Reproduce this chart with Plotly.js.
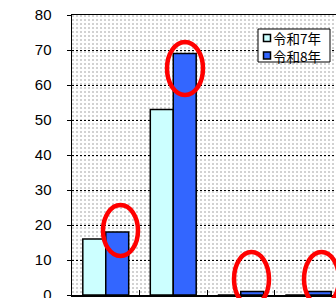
<!DOCTYPE html>
<html>
<head>
<meta charset="utf-8">
<script src="https://cdn.plot.ly/plotly-3.0.1.min.js"></script>
<style>html,body{margin:0;padding:0;background:#fff;}#chart{width:336px;height:298px;}</style>
</head>
<body>
<div id="chart"></div>
<script>
// ---- data ----
var categories = ['1', '2', '3', '4'];
var seriesNames = ['令和7年', '令和8年'];
var valuesR7 = [16, 53, 0, 0];
var valuesR8 = [18, 69, 1, 1];
var yTicks = [0, 10, 20, 30, 40, 50, 60, 70, 80];

// ---- layout helpers (pixel -> paper) ----
var W = 336, H = 298, ML = 72, MT = 15, MB = 3, MR = 0;
var PW = W - ML - MR, PH = H - MT - MB;
function px(x) { return (x - ML) / PW; }
function py(y) { return (H - MB - y) / PH; }

var cyan = '#CCFFFF', blue = '#3366FF';

var traces = [
  { type: 'bar', x: categories, y: valuesR7, name: seriesNames[0],
    marker: { color: cyan, line: { color: '#000', width: 1.5 } }, showlegend: false, hoverinfo: 'none' },
  { type: 'bar', x: categories, y: valuesR8, name: seriesNames[1],
    marker: { color: blue, line: { color: '#000', width: 1.5 } }, showlegend: false, hoverinfo: 'none' }
];

var bgSvg = "<svg xmlns='http://www.w3.org/2000/svg' width='264' height='280'><defs><pattern id='p' width='4' height='4' patternUnits='userSpaceOnUse'><rect width='4' height='4' fill='#ffffff'/><rect width='2' height='2' fill='#d2d2d2'/></pattern></defs><rect width='100%' height='100%' fill='url(#p)'/></svg>";

function ellipse(x0, y0, x1, y1) {
  return { type: 'circle', xref: 'paper', yref: 'paper', x0: px(x0), x1: px(x1), y0: py(y1), y1: py(y0),
    line: { color: '#FF0000', width: 4.5 }, layer: 'above' };
}

var shapes = [
  ellipse(103, 205, 138, 256),
  ellipse(167, 42, 203, 95),
  ellipse(234, 252, 269, 306),
  ellipse(304, 252, 339, 306),
  // legend box
  { type: 'rect', xref: 'paper', yref: 'paper', x0: px(258), x1: px(330), y0: py(62), y1: py(29),
    fillcolor: '#fff', line: { color: '#000', width: 1 }, layer: 'above' },
  { type: 'rect', xref: 'paper', yref: 'paper', x0: px(263.5), x1: px(270.5), y0: py(41.5), y1: py(34.5),
    fillcolor: cyan, line: { color: '#000', width: 1.5 }, layer: 'above' },
  { type: 'rect', xref: 'paper', yref: 'paper', x0: px(263.5), x1: px(270.5), y0: py(59), y1: py(52),
    fillcolor: blue, line: { color: '#000', width: 1.5 }, layer: 'above' }
];

var annotations = [
  { xref: 'paper', yref: 'paper', x: px(271), y: py(47), xanchor: 'left', yanchor: 'middle', showarrow: false,
    align: 'left', text: seriesNames.join('<br>'),
    font: { family: 'Noto Sans CJK JP', size: 13.5, color: '#000' } }
];

var layout = {
  width: W, height: H,
  margin: { l: ML, r: MR, t: MT, b: MB, pad: 0 },
  paper_bgcolor: '#fff', plot_bgcolor: '#fff',
  showlegend: false,
  barmode: 'group', bargap: 0.32, bargroupgap: 0,
  font: { family: 'Liberation Sans, Arial, sans-serif', size: 15, color: '#000' },
  images: [{ source: 'data:image/svg+xml;charset=utf-8,' + encodeURIComponent(bgSvg), xref: 'paper', yref: 'paper',
    x: 0, y: 1, sizex: 1, sizey: 1, xanchor: 'left', yanchor: 'top', sizing: 'stretch', layer: 'below' }],
  xaxis: {
    type: 'category', range: [-0.5, -0.5 + PW / 67.5], fixedrange: true,
    showline: true, mirror: true, linecolor: '#000', linewidth: 1.5,
    ticks: 'inside', ticklen: 5, tickcolor: '#000', tickwidth: 1, tickson: 'boundaries',
    showticklabels: false, showgrid: false, zeroline: false, automargin: false
  },
  yaxis: {
    range: [0, 80], tickvals: yTicks, fixedrange: true,
    showline: true, linecolor: '#000', linewidth: 1.5,
    ticks: 'outside', ticklen: 4, tickcolor: '#000', tickwidth: 1, ticklabelstandoff: 12,
    ticklabeloverflow: 'allow',
    showgrid: true, gridcolor: '#000', gridwidth: 1, griddash: '2px,2px',
    zeroline: false, automargin: false,
    tickfont: { family: 'Liberation Sans, Arial, sans-serif', size: 15, color: '#000' }
  },
  shapes: shapes,
  annotations: annotations
};

Plotly.newPlot('chart', traces, layout, { staticPlot: true, displayModeBar: false });
</script>
</body>
</html>
